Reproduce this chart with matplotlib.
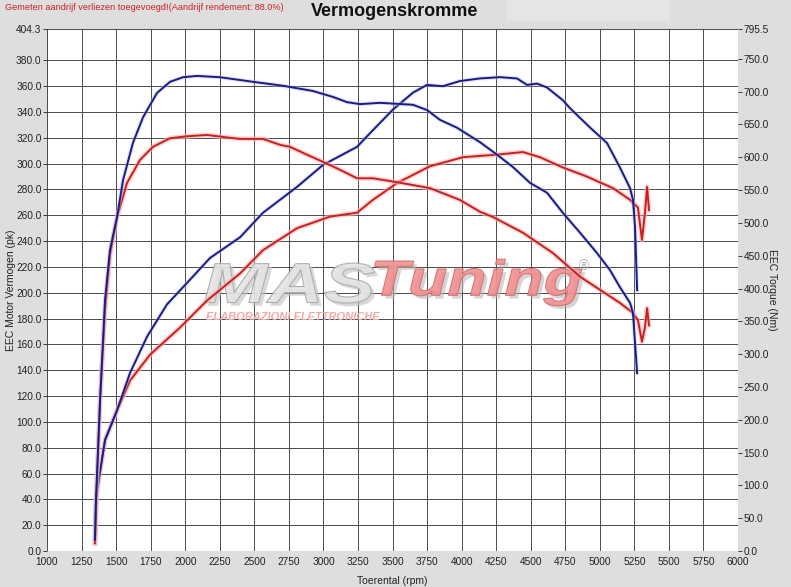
import matplotlib
matplotlib.use('Agg')
import matplotlib.pyplot as plt
import matplotlib.patheffects as pe
from matplotlib.patches import Rectangle, PathPatch
from matplotlib.textpath import TextPath
from matplotlib.font_manager import FontProperties
from matplotlib.transforms import Affine2D

plt.rcParams['font.family'] = ['Liberation Sans', 'DejaVu Sans']

# ---- data ----
# Blue torque (Nm, right axis)
rpm_bt = [1347, 1355, 1384, 1420, 1456, 1507, 1550, 1622, 1695, 1796, 1890, 1984, 2085, 2252,
          2491, 2708, 2925, 3069, 3171, 3265, 3410, 3648, 3750, 3844, 3967, 4133, 4256, 4372,
          4495, 4618, 4734, 4857, 4980, 5074, 5146, 5219, 5240, 5255, 5270]
nm_bt = [17, 82, 230, 383, 459, 509, 565, 622, 661, 698, 715, 722, 724, 722,
         715, 709, 701, 692, 684, 681, 683, 680, 672, 657, 645, 623, 604, 585,
         561, 546, 515, 485, 454, 428, 402, 378, 363, 317, 271]

# Blue power (pk, left axis)
rpm_bp = [1347, 1355, 1420, 1507, 1601, 1724, 1868, 1999, 2180, 2397, 2563, 2809, 2997, 3243,
          3359, 3504, 3648, 3750, 3865, 3988, 4133, 4278, 4401, 4473, 4546, 4618, 4734, 4784,
          4929, 5052, 5146, 5219, 5240, 5255, 5270]
pk_bp = [8.5, 42, 86, 109, 138, 166, 191, 206, 227, 243, 262, 282, 299, 313,
         326, 342, 355, 361, 360, 364, 366, 367, 366, 361, 362, 359, 349, 343,
         328, 316, 297, 281, 272, 251, 202]

# Red torque (Nm, right axis)
rpm_rt = [1347, 1362, 1384, 1420, 1456, 1507, 1579, 1673, 1767, 1890, 2013, 2158, 2274, 2397,
          2563, 2686, 2758, 2881, 2997, 3120, 3243, 3359, 3533, 3771, 3988, 4133, 4227, 4444,
          4661, 4857, 5002, 5146, 5233, 5276, 5305, 5327, 5342, 5356]
nm_rt = [12, 108, 230, 367, 451, 509, 561, 596, 616, 629, 632, 634, 631, 628,
         628, 619, 616, 604, 593, 581, 568, 568, 562, 553, 535, 517, 509, 485,
         454, 418, 398, 378, 364, 352, 319, 341, 370, 344]

# Red power (pk, left axis)
rpm_rp = [1347, 1355, 1420, 1507, 1601, 1745, 1962, 2158, 2397, 2563, 2809, 3048, 3243, 3359,
          3533, 3771, 4010, 4256, 4444, 4567, 4734, 4907, 5096, 5219, 5276, 5305, 5327, 5342, 5356]
pk_rp = [6, 42, 86, 109, 132, 152, 173, 194, 215, 233, 250, 259, 262, 272,
         285, 298, 305, 307, 309, 305, 297, 290, 281, 272, 266, 241, 262, 282, 264]

x_ticks = list(range(1000, 6001, 250))
pk_ticks = list(range(0, 381, 20)) + [404.3]
nm_ticks = list(range(0, 751, 50)) + [795.5]

title = 'Vermogenskromme'
note = 'Gemeten aandrijf verliezen toegevoegd!(Aandrijf rendement: 88.0%)'

# ---- figure ----
W, H = 791, 587
fig = plt.figure(figsize=(W / 100, H / 100), dpi=100, facecolor='#dedede')
fig.patches.append(Rectangle((507 / W, 1 - 21 / H), 163 / W, 21 / H, transform=fig.transFigure,
                             facecolor='#e6e4e6', edgecolor='none', zorder=0))

ax = fig.add_axes([47 / W, 36 / H, 691 / W, 522 / H])
ax.set_facecolor('white')
ax.set_xlim(1000, 6000)
ax.set_ylim(0, 404.3)
ax2 = ax.twinx()
ax2.set_ylim(0, 795.5)

ax.set_xticks(x_ticks)
ax.set_xticklabels([str(v) for v in x_ticks])
ax.set_yticks(pk_ticks)
ax.set_yticklabels(['%.1f' % v for v in pk_ticks])
ax2.set_yticks(nm_ticks)
ax2.set_yticklabels(['%.1f' % v for v in nm_ticks])

ax.grid(True, color='#4a4a4a', lw=0.7)
ax.set_axisbelow(True)
for a in (ax, ax2):
    for s in a.spines.values():
        s.set_visible(False)
ax.tick_params(axis='x', length=0, pad=4, labelsize=7.3, colors='#222222')
ax.tick_params(axis='y', length=3, width=0.6, pad=1, labelsize=7.3, colors='#222222', direction='out')
ax2.tick_params(axis='y', length=3, width=0.6, pad=1, labelsize=7.3, colors='#222222', direction='out')

ax.set_xlabel('Toerental (rpm)', fontsize=7.5, color='#222222')
ax.xaxis.set_label_coords(0.5, -0.048)
ax.set_ylabel('EEC Motor Vermogen (pk)', fontsize=7.5, color='#222222')
ax.yaxis.set_label_coords(-0.045, 0.5)
ax2.set_ylabel('EEC Torque (Nm)', fontsize=7.5, rotation=270, color='#222222')
ax2.yaxis.set_label_coords(1.057, 0.5)

# watermark logo (wide, stretched lettering)
fp = FontProperties(family='Liberation Sans', weight='bold', style='italic')


def logo_word(word, x0, y0, width, height, face, edge, shadow):
    tp = TextPath((0, 0), word, size=1, prop=fp)
    ext = tp.get_extents()
    tr = (Affine2D().translate(-ext.x0, -ext.y0)
          .scale(width / ext.width, height / ext.height)
          .translate(x0, y0))
    path = tr.transform_path(tp)
    sh = Affine2D().translate(25, -2.5).transform_path(path)
    ax.add_patch(PathPatch(sh, facecolor=shadow, edgecolor='none', alpha=0.6, zorder=1.4))
    ax.add_patch(PathPatch(path, facecolor=face, edgecolor=edge, lw=0.8, alpha=0.9, zorder=1.5))


logo_word('MAS', 2140, 192, 1230, 31, '#e4e4e4', '#a8a8a8', '#c0c0c0')
logo_word('Tuning', 3370, 190, 1500, 36, '#f29090', '#d07070', '#b8b8b8')
ax.text(2150, 181, 'ELABORAZIONI ELETTRONICHE', fontsize=8, style='italic', fontweight='bold',
        color='#f4a8a8', va='center', zorder=1.6)
ax.text(4850, 221, '®', fontsize=10, color='#b0b0b0', va='center', zorder=1.5)

blue = '#1b1b84'
red = '#c82020'
glow_r = [pe.Stroke(linewidth=3.6, foreground='#f6b4b4', alpha=0.6), pe.Normal()]
glow_b = [pe.Stroke(linewidth=3, foreground='#b8b8e8', alpha=0.4), pe.Normal()]

ax.plot(rpm_rp, pk_rp, color=red, lw=1.4, zorder=3, path_effects=glow_r)
ax.plot(rpm_bp, pk_bp, color=blue, lw=1.4, zorder=3, path_effects=glow_b)
ax2.plot(rpm_rt, nm_rt, color=red, lw=1.4, zorder=3, path_effects=glow_r)
ax2.plot(rpm_bt, nm_bt, color=blue, lw=1.4, zorder=3, path_effects=glow_b)

fig.text(5 / W, 1 - 7 / H, note, fontsize=6.6, color='#cc2020', va='center', ha='left')
fig.text(395 / W, 1 - 11 / H, title, fontsize=13, fontweight='bold', color='#111111',
         va='center', ha='center')

fig.savefig('out.png', dpi=100, facecolor=fig.get_facecolor())
